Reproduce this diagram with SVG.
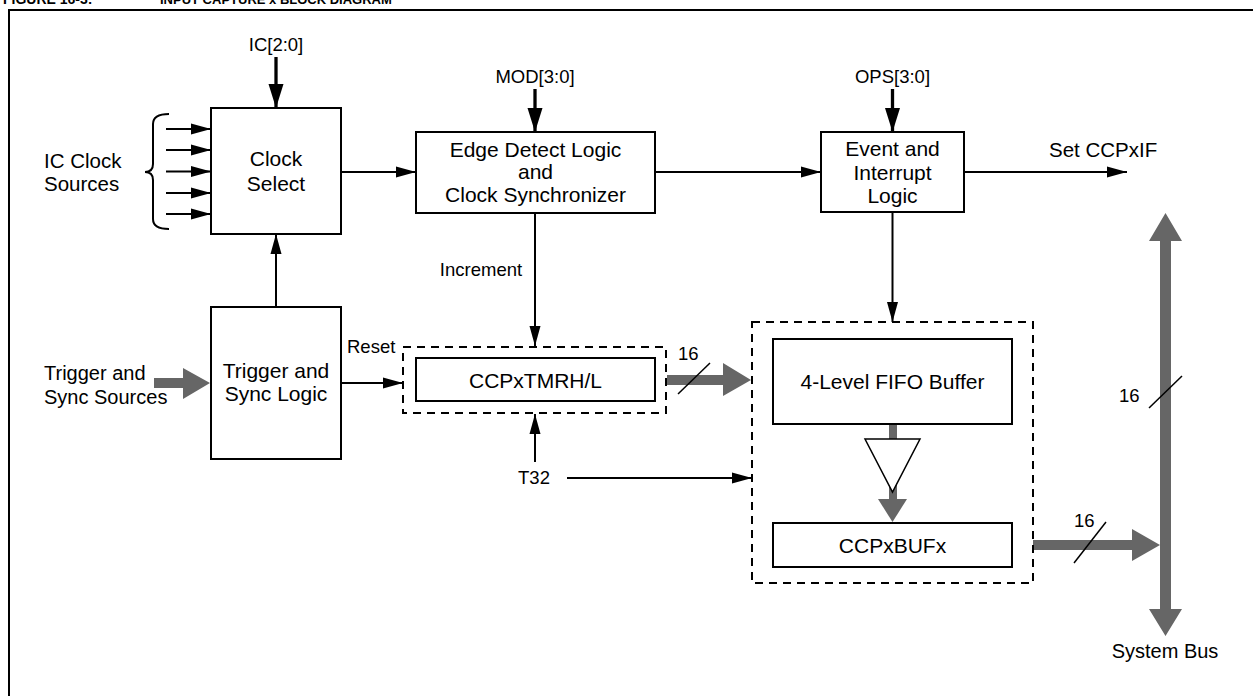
<svg xmlns="http://www.w3.org/2000/svg" width="1253" height="696" viewBox="0 0 1253 696">
<style>
.box{fill:#fff;stroke:#000;stroke-width:2}
.dash{fill:none;stroke:#000;stroke-width:2;stroke-dasharray:8 6}
.w{fill:none;stroke:#000;stroke-width:2}
.wb{fill:none;stroke:#000;stroke-width:3.3}
.bus{fill:#666;stroke:none}
.sl{stroke:#000;stroke-width:1.5}
text{font-family:"Liberation Sans",Arial,Helvetica,sans-serif;fill:#000}
.t{font-size:21px;text-anchor:middle}
.s{font-size:18.5px;text-anchor:middle}
.l{font-size:20.5px}
.title{font-size:13px;font-weight:bold}
</style>
<defs>
<marker id="ah" markerWidth="20" markerHeight="12" refX="20" refY="6" orient="auto" markerUnits="userSpaceOnUse"><path d="M0,0.5 L20,6 L0,11.5 z" fill="#000"/></marker>
<marker id="ahb" markerWidth="24" markerHeight="16" refX="24" refY="8" orient="auto" markerUnits="userSpaceOnUse"><path d="M0,0.5 L24,8 L0,15.5 z" fill="#000"/></marker>
</defs>
<rect width="1253" height="696" fill="#fff"/>
<text class="title" x="3" y="4" style="font-size:14px">FIGURE 16-3:</text>
<text class="title" x="160" y="4">INPUT CAPTURE x BLOCK DIAGRAM</text>
<rect x="9" y="10" width="1270" height="720" fill="none" stroke="#000" stroke-width="2"/>

<g id="labels">
<text class="s" x="276" y="51">IC[2:0]</text>
<text class="s" x="535" y="83">MOD[3:0]</text>
<text class="s" x="892.5" y="83">OPS[3:0]</text>
<text class="l" x="44" y="168">IC Clock</text>
<text class="l" x="44" y="190.5">Sources</text>
<text class="l" x="1049" y="157">Set CCPxIF</text>
<text class="s" x="481" y="276">Increment</text>
<text class="s" x="347" y="353" style="text-anchor:start">Reset</text>
<text class="s" x="534" y="484">T32</text>
<text class="l" x="44" y="379.5" style="font-size:20px">Trigger and</text>
<text class="l" x="44" y="403.5" style="font-size:20px">Sync Sources</text>
<text class="s" x="678" y="360" style="text-anchor:start">16</text>
<text class="s" x="1074" y="527" style="text-anchor:start">16</text>
<text class="s" x="1119" y="402" style="text-anchor:start">16</text>
<text class="l" x="1165" y="658" style="text-anchor:middle;font-size:20px">System Bus</text>
</g>

<g id="connectors">
<path class="w" d="M169,114 Q153,114 153,124 L153,164 Q153,172 145,172 Q153,172 153,180 L153,219 Q153,229 169,229"/>
<line class="wb" x1="276" y1="57" x2="276" y2="108" marker-end="url(#ahb)"/>
<line class="wb" x1="535" y1="89" x2="535" y2="132" marker-end="url(#ahb)"/>
<line class="wb" x1="892.5" y1="89" x2="892.5" y2="132" marker-end="url(#ahb)"/>
<line class="w" x1="166" y1="129" x2="211" y2="129" marker-end="url(#ah)"/>
<line class="w" x1="166" y1="150" x2="211" y2="150" marker-end="url(#ah)"/>
<line class="w" x1="166" y1="171.5" x2="211" y2="171.5" marker-end="url(#ah)"/>
<line class="w" x1="166" y1="193" x2="211" y2="193" marker-end="url(#ah)"/>
<line class="w" x1="166" y1="214" x2="211" y2="214" marker-end="url(#ah)"/>
<line class="w" x1="341" y1="172" x2="416" y2="172" marker-end="url(#ah)"/>
<line class="w" x1="655" y1="172" x2="821" y2="172" marker-end="url(#ah)"/>
<line class="w" x1="964" y1="172" x2="1127" y2="172" marker-end="url(#ah)"/>
<line class="w" x1="535" y1="213" x2="535" y2="346" marker-end="url(#ah)"/>
<line class="w" x1="892.5" y1="212" x2="892.5" y2="322" marker-end="url(#ah)"/>
<line class="w" x1="276" y1="307" x2="276" y2="234" marker-end="url(#ah)"/>
<line class="w" x1="341" y1="383" x2="403" y2="383" marker-end="url(#ah)"/>
<line class="w" x1="535" y1="462" x2="535" y2="414" marker-end="url(#ah)"/>
<line class="w" x1="567" y1="478" x2="752" y2="478" marker-end="url(#ah)"/>
<path class="bus" d="M154,378 L183,378 L183,368 L210,383 L183,399 L183,388 L154,388 Z"/>
<path class="bus" d="M667,375 L723,375 L723,363 L751,380 L723,396 L723,385 L667,385 Z"/>
<path class="bus" d="M1033,540 L1132,540 L1132,529 L1160,545 L1132,561 L1132,550 L1033,550 Z"/>
<path class="bus" d="M1160,241 L1149,241 L1165.5,213 L1182,241 L1171,241 L1171,609 L1182,609 L1165.5,636 L1149,609 L1160,609 Z"/>
<rect class="bus" x="889" y="424" width="8" height="77"/>
<path class="bus" d="M878,499 L907,499 L892.5,522 Z"/>
<path d="M865,439 L920,439 L892.5,492 Z" fill="#fff" stroke="#000" stroke-width="1.5"/>
<line class="sl" x1="678" y1="394" x2="710" y2="363"/>
<line class="sl" x1="1074" y1="563" x2="1106" y2="522"/>
<line class="sl" x1="1149" y1="408" x2="1182" y2="376"/>
</g>

<g id="clock-select">
<rect class="box" x="211" y="108" width="130" height="126"/>
<text class="t" x="276" y="165.5">Clock</text>
<text class="t" x="276" y="190.5">Select</text>
</g>
<g id="edge-detect">
<rect class="box" x="416" y="132" width="239" height="81"/>
<text class="t" x="535.5" y="157">Edge Detect Logic</text>
<text class="t" x="535.5" y="179">and</text>
<text class="t" x="535.5" y="201.5">Clock Synchronizer</text>
</g>
<g id="event-logic">
<rect class="box" x="821" y="132" width="143" height="80"/>
<text class="t" x="892.5" y="156">Event and</text>
<text class="t" x="892.5" y="179.5">Interrupt</text>
<text class="t" x="892.5" y="203">Logic</text>
</g>
<g id="trigger-logic">
<rect class="box" x="211" y="307" width="130" height="152"/>
<text class="t" x="276" y="377.5">Trigger and</text>
<text class="t" x="276" y="400.5">Sync Logic</text>
</g>
<g id="timer">
<rect class="dash" x="403" y="347" width="263" height="66"/>
<rect class="box" x="416" y="358" width="239" height="43"/>
<text class="t" x="535.5" y="387.5">CCPxTMRH/L</text>
</g>
<g id="fifo-group">
<rect class="dash" x="752" y="322" width="281" height="261"/>
</g>
<g id="fifo">
<rect class="box" x="773" y="339" width="239" height="85"/>
<text class="t" x="892.5" y="389">4-Level FIFO Buffer</text>
</g>
<g id="ccpxbufx">
<rect class="box" x="773" y="523" width="239" height="44"/>
<text class="t" x="892.5" y="553">CCPxBUFx</text>
</g>
</svg>
